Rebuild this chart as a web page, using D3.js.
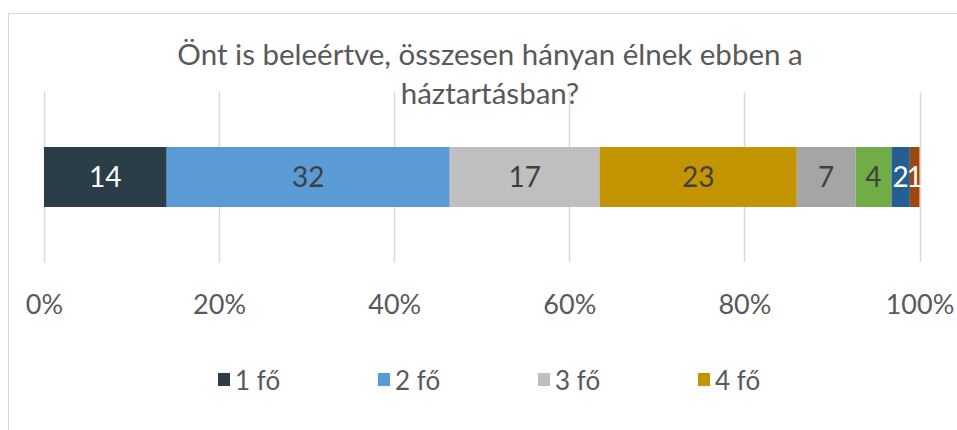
<!DOCTYPE html>
<html>
<head>
<meta charset="utf-8">
<script src="https://cdn.jsdelivr.net/npm/d3@7"></script>
<style>
  body { margin: 0; background: #fff; }
  text { font-family: Lato, "Open Sans", sans-serif; fill: #595959; }
</style>
</head>
<body>
<svg id="chart" width="957" height="430"></svg>
<script>
// data (percent of respondents)
var categories = ["1 fő", "2 fő", "3 fő", "4 fő", "5 fő", "6 fő", "7 fő", "8 fő"];
var values = [14.0, 32.3, 17.1, 22.5, 6.7, 4.1, 2.1, 1.1];
var colors = ["#2B3D47", "#5B9BD5", "#BFBFBF", "#C49400", "#A5A5A5", "#70AD47", "#255E91", "#9E480E"];
var labelColors = ["#fff", "#404040", "#404040", "#404040", "#404040", "#404040", "#fff", "#fff"];
var ticks = [0, 0.2, 0.4, 0.6, 0.8, 1];
var legendShown = 4; // only the first four entries fit in the legend

var svg = d3.select("#chart");

// chart frame
svg.append("rect")
    .attr("x", 8.5).attr("y", 13.5)
    .attr("width", 1000).attr("height", 500)
    .attr("fill", "none")
    .attr("stroke", "#D9D9D9");

var x = d3.scaleLinear().domain([0, 1]).range([44, 919.5]);
var y = d3.scaleBand().domain(["q"]).range([92, 262]).paddingInner(0).paddingOuter(0.917);

// title
svg.append("text")
    .attr("text-anchor", "middle")
    .attr("font-size", 29.5)
    .selectAll("tspan")
    .data(["Önt is beleértve, összesen hányan élnek ebben a", "háztartásban?"])
    .enter().append("tspan")
    .attr("x", 490)
    .attr("y", (d, i) => 65 + i * 39)
    .text(d => d);

// gridlines
svg.append("g")
    .selectAll("line")
    .data(ticks)
    .enter().append("line")
    .attr("x1", d => Math.round(x(d)) + 0.5)
    .attr("x2", d => Math.round(x(d)) + 0.5)
    .attr("y1", 92).attr("y2", 262)
    .attr("stroke", "#D9D9D9")
    .attr("stroke-width", 1.5);

// stack (100% normalised)
var total = d3.sum(values);
var acc = 0;
var segs = values.map(function(v, i) {
    var s = { i: i, v: v, x0: acc / total, x1: (acc + v) / total };
    acc += v;
    return s;
});

svg.append("g")
    .selectAll("rect")
    .data(segs)
    .enter().append("rect")
    .attr("x", d => x(d.x0))
    .attr("width", d => x(d.x1) - x(d.x0))
    .attr("y", y("q"))
    .attr("height", y.bandwidth())
    .attr("fill", d => colors[d.i]);

svg.append("g")
    .selectAll("text")
    .data(segs)
    .enter().append("text")
    .attr("x", d => (x(d.x0) + x(d.x1)) / 2)
    .attr("y", y("q") + y.bandwidth() / 2)
    .attr("dy", "0.36em")
    .attr("text-anchor", "middle")
    .attr("font-size", 28)
    .style("fill", d => labelColors[d.i])
    .text(d => Math.round(d.v));

// x axis labels
var xAxis = svg.append("g")
    .attr("transform", "translate(0,314)")
    .call(d3.axisBottom(x).tickValues(ticks).tickFormat(d3.format(".0%")).tickSize(0));
xAxis.select(".domain").remove();
xAxis.selectAll("text")
    .attr("y", 0).attr("dy", null)
    .attr("font-size", 27)
    .attr("font-family", "Lato, sans-serif")
    .style("fill", "#595959");

// legend
var legend = svg.append("g")
    .selectAll("g")
    .data(categories.slice(0, legendShown))
    .enter().append("g")
    .attr("transform", (d, i) => "translate(" + (218 + i * 160) + ",373)");
legend.append("rect")
    .attr("width", 12).attr("height", 13)
    .attr("fill", (d, i) => colors[i]);
legend.append("text")
    .attr("x", 17).attr("y", 17)
    .attr("font-size", 26)
    .text(d => d);
</script>
</body>
</html>
